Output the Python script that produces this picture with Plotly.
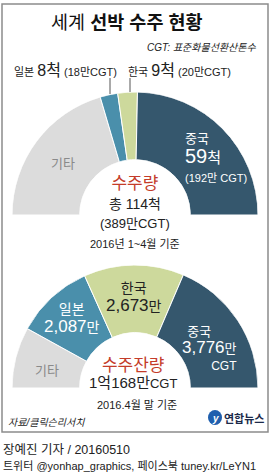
import numpy as np
import plotly.graph_objects as go

W, H = 270, 473

# ---- data ----
countries = ["기타", "일본", "한국", "중국"]
orders_cgt = [159, 18, 20, 192]          # 만CGT, 2016 1~4월 수주량
orders_ships = [38, 8, 9, 59]            # 척
backlog_cgt = [1632, 2087, 2673, 3776]   # 만CGT, 2016.4월 말 수주잔량
colors = ["#dcdcdc", "#4a8fab", "#cdd99c", "#35576d"]

FONT = "Liberation Sans, Noto Sans CJK KR"


def px(x, y):
    return x / W, 1 - y / H


def wedges(vals):
    v = np.array(vals, dtype=float)
    w = v / v.sum() * 180.0
    start = np.concatenate([[0], np.cumsum(w)[:-1]])
    return start + w / 2, w


fig = go.Figure()

for vals, name in [(orders_cgt, "polar"), (backlog_cgt, "polar2")]:
    th, wd = wedges(vals)
    fig.add_trace(go.Barpolar(
        r=[1] * len(vals), theta=th, width=wd, base=0,
        marker=dict(color=colors, line=dict(color="white", width=1)),
        subplot=name, hoverinfo="skip", showlegend=False,
    ))

axis_common = dict(
    radialaxis=dict(range=[0, 1], visible=False, showgrid=False),
    angularaxis=dict(visible=False, showgrid=False, direction="clockwise",
                     rotation=180),
    sector=[0, 180], hole=0.45, bgcolor="rgba(0,0,0,0)",
)

x0, _ = px(12, 0)
x1, _ = px(258, 0)
_, t_top = px(0, 92)
_, t_bot = px(0, 215)
_, b_top = px(0, 265)
_, b_bot = px(0, 388)

fig.update_layout(
    width=W, height=H, margin=dict(l=0, r=0, t=0, b=0),
    paper_bgcolor="white", plot_bgcolor="white",
    polar=dict(domain=dict(x=[x0, x1], y=[t_bot, t_top]), **axis_common),
    polar2=dict(domain=dict(x=[x0, x1], y=[b_bot, b_top]), **axis_common),
    font=dict(family=FONT, color="#222222"),
)

anns = []


def txt(x, y, text, size=12, color="#222222", anchor="center", align=None):
    ax, ay = px(x, y)
    anns.append(dict(x=ax, y=ay, xref="paper", yref="paper", text=text,
                     showarrow=False, xanchor=anchor, yanchor="middle",
                     align=align or anchor, borderpad=0,
                     font=dict(size=size, color=color, family=FONT)))


def sp(text, size, color=None):
    st = f"font-size:{size}px"
    if color:
        st += f";color:{color}"
    return f"<span style='{st}'>{text}</span>"


RED = "#c43c2a"
GRAY = "#8a8a8a"
WHITE = "#ffffff"


def comma(v):
    return f"{v:,}"


# title
txt(127, 23, "세계 <b>선박 수주 현황</b>", 18.5, "#111111")
txt(258, 47, "<i>CGT: 표준화물선환산톤수</i>", 10, "#222222", "right")

# top labels
txt(13, 70, f"{countries[1]} {sp(str(orders_ships[1]) + '척', 16)} ({orders_cgt[1]}만CGT)", 11, "#222222", "left")
txt(127, 70, f"{countries[2]} {sp(str(orders_ships[2]) + '척', 16)} ({orders_cgt[2]}만CGT)", 11, "#222222", "left")
txt(184, 157,
    sp(countries[3], 13) + "<br>" + sp(str(orders_ships[3]), 20) + "척<br>"
    + sp(f"({orders_cgt[3]}만 CGT)", 11),
    15, WHITE, "left")
txt(63, 163, countries[0], 13, GRAY)
txt(135, 212,
    sp("수주량", 17, RED) + "<br>" + sp(f"총 {sum(orders_ships)}척", 14) + "<br>"
    + sp(f"({sum(orders_cgt)}만CGT)", 13) + "<br>" + sp("2016년 1~4월 기준", 11),
    15)

# bottom labels
txt(134, 297, countries[2] + "<br>" + sp(comma(backlog_cgt[2]), 17) + "만", 14)
txt(72, 318, countries[1] + "<br>" + sp(comma(backlog_cgt[1]), 17) + "만", 14, WHITE)
txt(238, 348,
    sp(countries[3], 13) + "&nbsp;" * 7 + "<br>" + sp(comma(backlog_cgt[3]), 17)
    + "만<br>" + sp("CGT", 12),
    13, WHITE, "right")
txt(47, 370, countries[0], 13, GRAY)
tot = sum(backlog_cgt)
txt(133, 373,
    sp("수주잔량", 17, RED) + "<br>" + sp(f"{tot // 10000}억{tot % 10000}만", 15) + "CGT",
    13)
txt(137, 405, "2016.4월 말 기준", 11)

# footer
txt(7, 422, "<i>자료/클릭슨리서치</i>", 10, "#222222", "left")
txt(223, 418, "<b>연합뉴스</b>", 11, "#1b2a4a", "left")
txt(215, 418, "<b><i>y</i></b>", 10, WHITE)
txt(2, 450, "장예진 기자 / 20160510", 12.5, "#222222", "left")
txt(2, 466, "트위터 @yonhap_graphics, 페이스북 tuney.kr/LeYN1", 11, "#222222", "left")

fig.update_layout(annotations=anns)

shapes = []


def line(xa, ya, xb, yb, color="#555555", width=1):
    a = px(xa, ya)
    b = px(xb, yb)
    shapes.append(dict(type="line", xref="paper", yref="paper",
                       x0=a[0], y0=a[1], x1=b[0], y1=b[1],
                       line=dict(color=color, width=width)))


line(110, 78, 110, 94)
line(130, 78, 130, 92)

# frame
a = px(2, 4)
b = px(268, 432)
shapes.append(dict(type="rect", xref="paper", yref="paper",
                   x0=a[0], y0=b[1], x1=b[0], y1=a[1],
                   line=dict(color="#8c8c8c", width=1.5), layer="below"))
# logo circle
c0 = px(208, 410)
c1 = px(222, 425)
shapes.append(dict(type="circle", xref="paper", yref="paper",
                   x0=c0[0], y0=c1[1], x1=c1[0], y1=c0[1],
                   fillcolor="#1f5fae", line=dict(width=0), layer="below"))

fig.update_layout(shapes=shapes)

fig.write_html("out.html")
